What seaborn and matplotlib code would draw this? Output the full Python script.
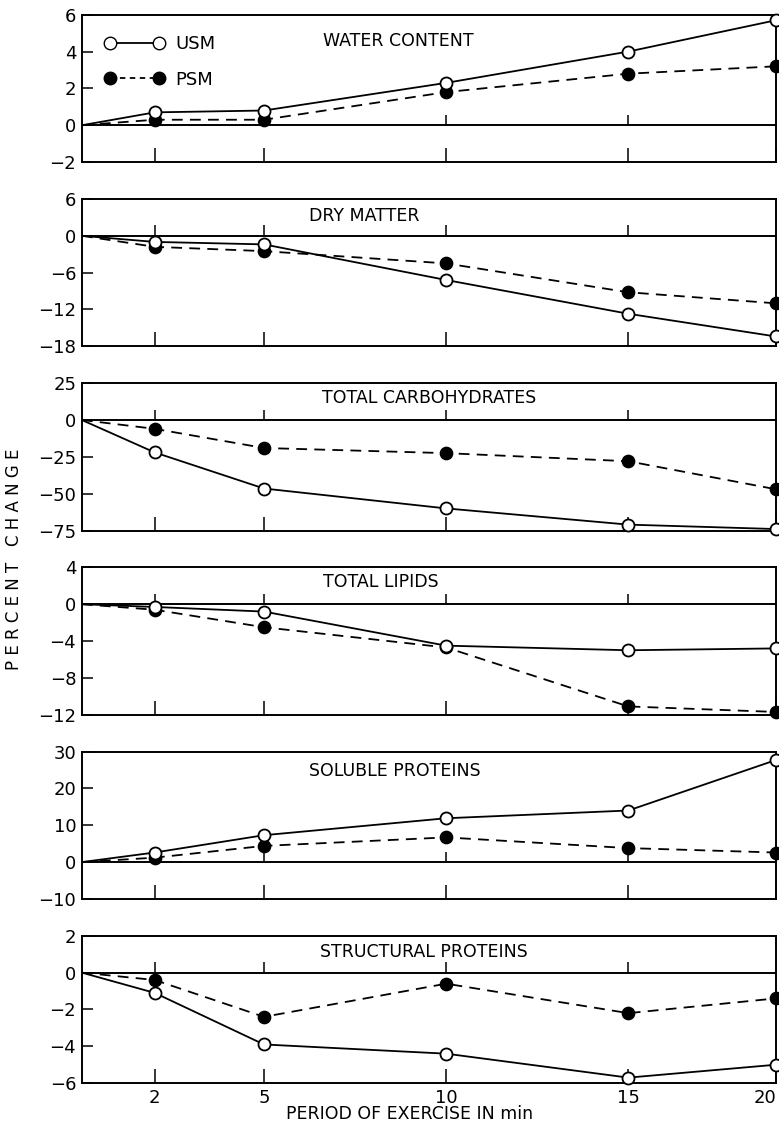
import numpy as np
import matplotlib
matplotlib.use("Agg")
import matplotlib.pyplot as plt
from matplotlib.lines import Line2D
import seaborn as sns

# exercise period (min)
minutes = [0, 2, 5, 10, 15, 20]
x_ticks = [2, 5, 10, 15, 20]

panel_titles = ["WATER CONTENT", "DRY MATTER", "TOTAL CARBOHYDRATES",
                "TOTAL LIPIDS", "SOLUBLE PROTEINS", "STRUCTURAL PROTEINS"]

# percent change, unstimulated (USM) and stimulated (PSM) muscle
water_usm = [0, 0.7, 0.8, 2.3, 4.0, 5.7]
water_psm = [0, 0.3, 0.3, 1.8, 2.8, 3.2]
dry_usm = [0, -1.0, -1.4, -7.2, -12.7, -16.4]
dry_psm = [0, -1.8, -2.5, -4.5, -9.2, -11.0]
carb_usm = [0, -22, -46.5, -60, -71, -74]
carb_psm = [0, -6, -19, -22.5, -28, -47]
lipid_usm = [0, -0.3, -0.8, -4.5, -5.0, -4.8]
lipid_psm = [0, -0.6, -2.5, -4.7, -11.1, -11.7]
sol_usm = [0, 2.6, 7.3, 11.9, 14.0, 27.7]
sol_psm = [0, 1.2, 4.4, 6.7, 3.8, 2.6]
struct_usm = [0, -1.1, -3.9, -4.4, -5.7, -5.0]
struct_psm = [0, -0.4, -2.4, -0.6, -2.2, -1.4]

usm_series = [water_usm, dry_usm, carb_usm, lipid_usm, sol_usm, struct_usm]
psm_series = [water_psm, dry_psm, carb_psm, lipid_psm, sol_psm, struct_psm]

y_ticks = [[-2, 0, 2, 4, 6],
           [-18, -12, -6, 0, 6],
           [-75, -50, -25, 0, 25],
           [-12, -8, -4, 0, 4],
           [-10, 0, 10, 20, 30],
           [-6, -4, -2, 0, 2]]

title_x = [0.347, 0.328, 0.346, 0.347, 0.328, 0.343]
title_y = [0.82, 0.885, 0.9, 0.9, 0.87, 0.89]

sns.set_style("ticks")
plt.rcParams["font.family"] = ["DejaVu Sans"]
plt.rcParams["axes.linewidth"] = 1.4
plt.rcParams["text.color"] = "black"

DASH = (0, (6, 4))


# the original time axis is drawn a bit compressed after 15 min
def fwd(x):
    x = np.asarray(x, dtype=float)
    return np.where(x <= 15, x, 15 + (x - 15) * 0.81)


def inv(x):
    x = np.asarray(x, dtype=float)
    return np.where(x <= 15, x, 15 + (x - 15) / 0.81)


fig, axes = plt.subplots(6, 1, figsize=(7.79, 11.33), dpi=100, sharex=True)
fig.subplots_adjust(left=0.105, right=0.996, top=0.987, bottom=0.044, hspace=0.25)

for i, ax in enumerate(axes):
    ax.set_xscale("function", functions=(fwd, inv))
    ax.set_xlim(0, 20)
    yt = y_ticks[i]
    ax.set_ylim(yt[0], yt[-1])

    sns.lineplot(x=minutes, y=psm_series[i], ax=ax, color="black", lw=1.3,
                 ls=DASH, zorder=2)
    sns.lineplot(x=minutes, y=usm_series[i], ax=ax, color="black", lw=1.3, zorder=2)
    sns.scatterplot(x=minutes[1:], y=psm_series[i][1:], ax=ax, color="black",
                    edgecolor="black", s=75, linewidth=1.2, zorder=4, clip_on=False)
    sns.scatterplot(x=minutes[1:], y=usm_series[i][1:], ax=ax, color="white",
                    edgecolor="black", s=75, linewidth=1.3, zorder=5, clip_on=False)

    ax.axhline(0, color="black", lw=1.4, zorder=1)
    # small tick marks standing on the zero line
    zero_frac = (0 - yt[0]) / (yt[-1] - yt[0])
    ax.vlines(x_ticks[:-1], zero_frac, zero_frac + 0.07, color="black", lw=1.1,
              transform=ax.get_xaxis_transform())

    ax.set_yticks(yt)
    ax.set_yticklabels([str(v).replace("-", "\u2212") for v in yt])
    ax.set_xticks(x_ticks)
    ax.tick_params(axis="both", direction="in", length=8, width=1.1,
                   labelsize=13, pad=4, colors="black")
    ax.tick_params(axis="x", length=10)
    ax.text(title_x[i], title_y[i], panel_titles[i], transform=ax.transAxes,
            ha="left", va="center", fontsize=12.5, color="black")
    for sp in ax.spines.values():
        sp.set_visible(True)
        sp.set_color("black")
    ax.set_xlabel("")
    ax.set_ylabel("")

axes[-1].set_xticklabels([str(t) for t in x_ticks])
axes[-1].get_xticklabels()[-1].set_horizontalalignment("right")

handles = [
    Line2D([], [], color="black", lw=1.3, marker="o", ms=9, mfc="white", mec="black"),
    Line2D([], [], color="black", lw=1.3, ls=(0, (3, 2.5)), marker="o", ms=9,
           mfc="black", mec="black"),
]
axes[0].legend(handles, ["USM", "PSM"], loc="upper left", bbox_to_anchor=(0.01, 0.97),
               frameon=False, numpoints=2, handlelength=3.3, fontsize=13,
               labelspacing=0.95, handletextpad=0.6)

fig.text(0.018, 0.506, "P E R C E N T   C H A N G E", rotation=90,
         ha="center", va="center", fontsize=12)
fig.text(0.526, 0.017, "PERIOD OF EXERCISE IN min", ha="center", va="center",
         fontsize=12.5)

plt.savefig("out.png", dpi=100)
plt.close()
